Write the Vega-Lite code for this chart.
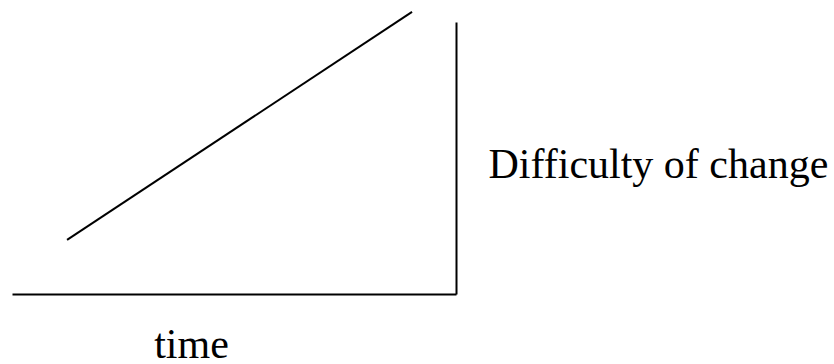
{
  "$schema": "https://vega.github.io/schema/vega-lite/v6.json",
  "width": 444,
  "height": 272,
  "autosize": {"type": "none"},
  "padding": {"left": 12, "top": 22, "right": 378, "bottom": 70},
  "background": "white",
  "config": {"view": {"stroke": null}},
  "data": {"values": [
    {"time": 12.4, "difficulty": 19.9},
    {"time": 90.1, "difficulty": 103.7}
  ]},
  "mark": {"type": "line", "color": "#000000", "strokeWidth": 2, "clip": false},
  "encoding": {
    "x": {
      "field": "time", "type": "quantitative",
      "scale": {"domain": [0, 100], "nice": false, "zero": false},
      "axis": {
        "orient": "bottom", "grid": false, "ticks": false, "labels": false,
        "domain": true, "domainColor": "#000000", "domainWidth": 2,
        "title": "time", "titleFont": "Liberation Serif", "titleFontSize": 42,
        "titleFontWeight": "normal", "titleColor": "#000000",
        "titleAnchor": null, "titleAlign": "center", "titleBaseline": "alphabetic",
        "titleX": 179, "titleY": 63
      }
    },
    "y": {
      "field": "difficulty", "type": "quantitative",
      "scale": {"domain": [0, 100], "nice": false, "zero": false},
      "axis": {
        "orient": "right", "grid": false, "ticks": false, "labels": false,
        "domain": true, "domainColor": "#000000", "domainWidth": 2,
        "title": "Difficulty of change", "titleFont": "Liberation Serif", "titleFontSize": 42,
        "titleFontWeight": "normal", "titleColor": "#000000",
        "titleAngle": 0, "titleAlign": "left", "titleBaseline": "alphabetic",
        "titleX": 32, "titleY": 155
      }
    }
  }
}
